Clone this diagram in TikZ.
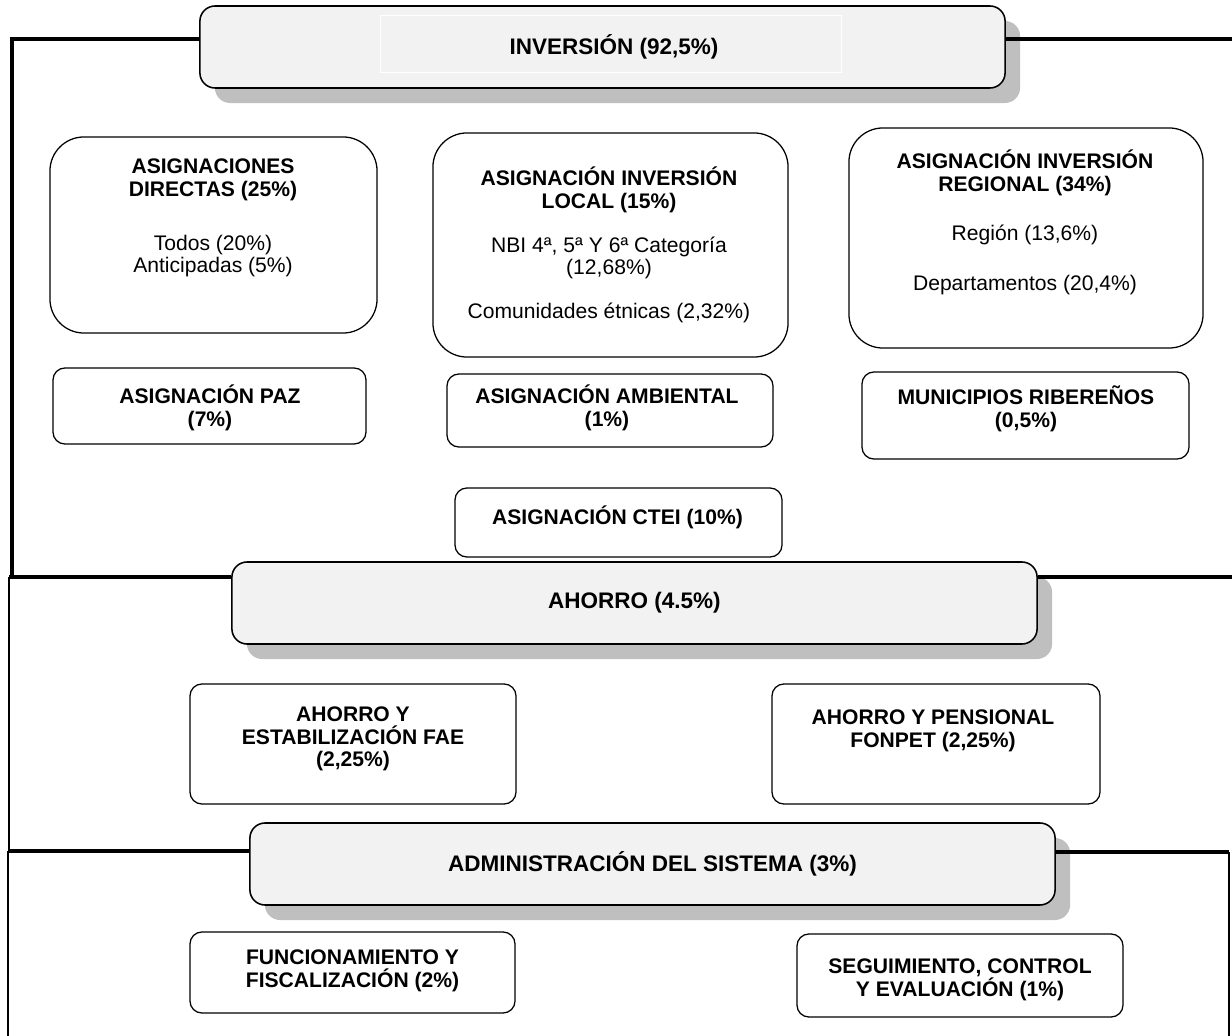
\documentclass[tikz,border=0pt]{standalone}
\usepackage{fontspec}
\setmainfont{Liberation Sans}
\usetikzlibrary{shadows}

\begin{document}
\begin{tikzpicture}[
        x=0.025cm, y=-0.025cm,
        frame/.style = {line width=2.5pt},
        thinframe/.style = {line width=1.6pt},
        header/.style = {rectangle, draw, line width=1.1pt, fill=gray!10, rounded corners=0.38cm, minimum width=20.125cm, minimum height=2.05cm, font=\fontsize{16}{19}\selectfont\bfseries, drop shadow={shadow xshift=0.375cm, shadow yshift=-0.375cm, fill=black, opacity=0.25}},
        bigbox/.style = {rectangle, draw, line width=0.9pt, rounded corners=0.85cm},
        smallbox/.style = {rectangle, draw, line width=0.9pt, rounded corners=0.3cm},
        txt/.style = {align=center, inner sep=0pt, font=\fontsize{15}{16.2}\selectfont\bfseries}
    ]
        \useasboundingbox (0,0) rectangle (1232,1036);

        % Frame corners
        \coordinate (invL) at (12,39);
        \coordinate (invB) at (12,579);
        \coordinate (invR) at (1232,39);
        \coordinate (ahoL) at (9,577);
        \coordinate (ahoB) at (9,851);
        \coordinate (ahoR) at (1232,577);
        \coordinate (admL) at (8,851);
        \coordinate (admB) at (8,1036);
        \coordinate (admR) at (1229,852);
        \coordinate (admRB) at (1229,1036);

        % Headers
        \node [header] (hInv) at (602.5,47) {};
        \node [draw=white, line width=0.6pt, minimum width=11.525cm, minimum height=1.425cm] (invFrame) at (610.5,43.5) {};
        \node [font=\fontsize{16}{19}\selectfont\bfseries] (hInvT) at (614,47) {INVERSIÓN (92,5\%)};
        \node [header] (hAho) at (634.5,603) {AHORRO (4.5\%)};
        \node [header] (hAdm) at (652.5,864) {ADMINISTRACIÓN DEL SISTEMA (3\%)};

        % Frame lines
        \draw [frame] (hInv.west |- invL) -- (invL) -- (invB);
        \draw [frame] (hInv.east |- invR) -- (invR);
        \draw [frame] (hAho.west |- ahoL) -- (ahoL);
        \draw [thinframe] (ahoL) -- (ahoB);
        \draw [frame] (hAho.east |- ahoR) -- (ahoR);
        \draw [frame] (hAdm.west |- admL) -- (admL);
        \draw [thinframe] (admL) -- (admB);
        \draw [frame] (hAdm.east |- admR) -- (admR);
        \draw [thinframe] (admR) -- (admRB);

        % Inversion: big boxes
        \node [bigbox, minimum width=8.175cm, minimum height=4.9cm] (dir) at (213.5,235) {};
        \node [txt] (dirT) at (213,218) {ASIGNACIONES\\DIRECTAS (25\%)\\[22pt]\mdseries Todos (20\%)\\\mdseries Anticipadas (5\%)};
        \node [bigbox, minimum width=8.875cm, minimum height=5.6cm] (loc) at (610.5,245) {};
        \node [txt] (locT) at (609,245) {ASIGNACIÓN INVERSIÓN\\LOCAL (15\%)\\[15pt]\mdseries NBI 4ª, 5ª Y 6ª Categoría\\\mdseries (12,68\%)\\[15pt]\mdseries Comunidades étnicas (2,32\%)};
        \node [bigbox, minimum width=8.85cm, minimum height=5.5cm] (reg) at (1026,238) {};
        \node [txt] (regT) at (1025,222) {ASIGNACIÓN INVERSIÓN\\REGIONAL (34\%)\\[19pt]\mdseries Región (13,6\%)\\[19pt]\mdseries Departamentos (20,4\%)};

        % Inversion: small boxes
        \node [smallbox, minimum width=7.825cm, minimum height=1.9cm] (paz) at (209.5,406) {};
        \node [txt] (pazT) at (210,408) {ASIGNACIÓN PAZ\\(7\%)};
        \node [smallbox, minimum width=8.15cm, minimum height=1.825cm] (amb) at (610,410.5) {};
        \node [txt] (ambT) at (607,408) {ASIGNACIÓN AMBIENTAL\\(1\%)};
        \node [smallbox, minimum width=8.175cm, minimum height=2.175cm] (rib) at (1025.5,415.5) {};
        \node [txt] (ribT) at (1026,409) {MUNICIPIOS RIBEREÑOS\\(0,5\%)};
        \node [smallbox, minimum width=8.175cm, minimum height=1.725cm] (ctei) at (618.5,522.5) {};
        \node [txt] (cteiT) at (617.5,517) {ASIGNACIÓN CTEI (10\%)};

        % Ahorro
        \node [smallbox, minimum width=8.15cm, minimum height=3cm] (fae) at (353,744) {};
        \node [txt] (faeT) at (353,739) {AHORRO Y\\ESTABILIZACIÓN FAE\\(2,25\%)};
        \node [smallbox, minimum width=8.2cm, minimum height=3cm] (fonpet) at (936,744) {};
        \node [txt] (fonpetT) at (933,731) {AHORRO Y PENSIONAL\\FONPET (2,25\%)};

        % Administracion
        \node [smallbox, minimum width=8.125cm, minimum height=2.025cm] (func) at (352.5,972.5) {};
        \node [txt] (funcT) at (352.5,971) {FUNCIONAMIENTO Y\\FISCALIZACIÓN (2\%)};
        \node [smallbox, minimum width=8.15cm, minimum height=2.075cm] (seg) at (960,975.5) {};
        \node [txt] (segT) at (960,980) {SEGUIMIENTO, CONTROL\\Y EVALUACIÓN (1\%)};

    \end{tikzpicture}
\end{document}
